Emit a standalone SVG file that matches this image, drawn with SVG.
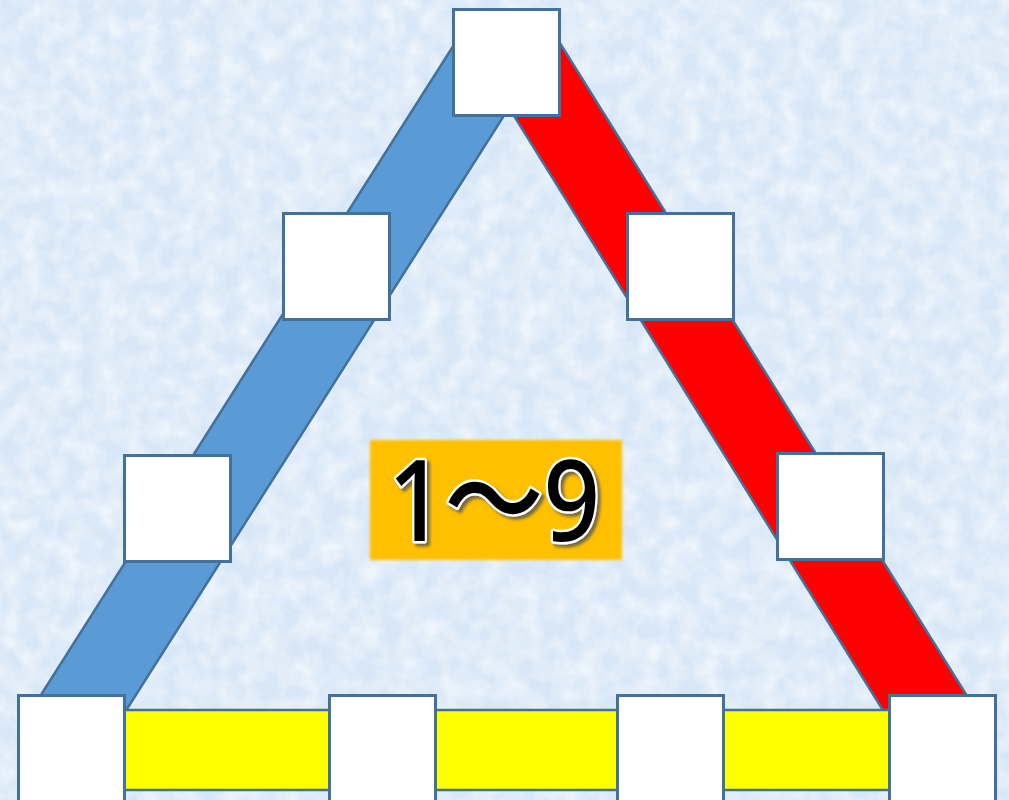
<svg xmlns="http://www.w3.org/2000/svg" width="1009" height="800" viewBox="0 0 1009 800">
  <defs>
    <filter id="tex" x="0" y="0" width="100%" height="100%">
      <feTurbulence type="fractalNoise" baseFrequency="0.05" numOctaves="3" seed="4" result="n"/>
      <feColorMatrix in="n" type="matrix" values="0 0 0 0 1  0 0 0 0 1  0 0 0 0 1  0 0 0 1.1 -0.35" result="w"/>
      <feComposite in="w" in2="SourceGraphic" operator="in"/>
    </filter>
    <filter id="soft" x="-5%" y="-5%" width="110%" height="110%">
      <feGaussianBlur stdDeviation="1.5"/>
    </filter>
    <filter id="shadow" x="-10%" y="-10%" width="130%" height="130%">
      <feDropShadow dx="3" dy="3" stdDeviation="1.5" flood-color="#555" flood-opacity="0.8"/>
    </filter>
    <style>
      .box { fill: #ffffff; stroke: #41719C; stroke-width: 3; }
      .band { stroke: #41719C; stroke-width: 2.5; stroke-linejoin: miter; }
      .lbl { font-family: "Noto Sans", "Noto Sans CJK JP", sans-serif; font-weight: 500; font-size: 112px; fill: #000000; stroke: #ffffff; stroke-width: 5; paint-order: stroke; stroke-linejoin: round; }
    </style>
  </defs>
  <rect x="0" y="0" width="1009" height="800" fill="#d8e7f7"/>
  <rect x="0" y="0" width="1009" height="800" fill="#d8e7f7" filter="url(#tex)"/>
  <g id="connectors">
    <polygon class="band" fill="#5B9BD5" points="457,40 552,40 120,720 25,720"/>
    <polygon class="band" fill="#FF0000" points="467,40 558,40 982,720 889,720"/>
    <rect class="band" fill="#FFFF00" x="120" y="710" width="775" height="80"/>
  </g>
  <g id="label">
    <rect x="370" y="440" width="252" height="120" fill="#FFC000" filter="url(#soft)"/>
    <text class="lbl" x="494" y="541" text-anchor="middle" filter="url(#shadow)" textLength="212" lengthAdjust="spacingAndGlyphs">1～9</text>
  </g>
  <g id="n-top"><rect class="box" x="453.5" y="9.5" width="106" height="106"/></g>
  <g id="n-left-upper"><rect class="box" x="283.5" y="213.5" width="106" height="106"/></g>
  <g id="n-right-upper"><rect class="box" x="627.5" y="213.5" width="106" height="106"/></g>
  <g id="n-left-mid"><rect class="box" x="124.5" y="455.5" width="106" height="106"/></g>
  <g id="n-right-mid"><rect class="box" x="777.5" y="453.5" width="106" height="106"/></g>
  <g id="n-bottom-1"><rect class="box" x="18.5" y="695.5" width="106" height="106"/></g>
  <g id="n-bottom-2"><rect class="box" x="329.5" y="695.5" width="106" height="106"/></g>
  <g id="n-bottom-3"><rect class="box" x="617.5" y="695.5" width="106" height="106"/></g>
  <g id="n-bottom-4"><rect class="box" x="889.5" y="695.5" width="106" height="106"/></g>
</svg>
